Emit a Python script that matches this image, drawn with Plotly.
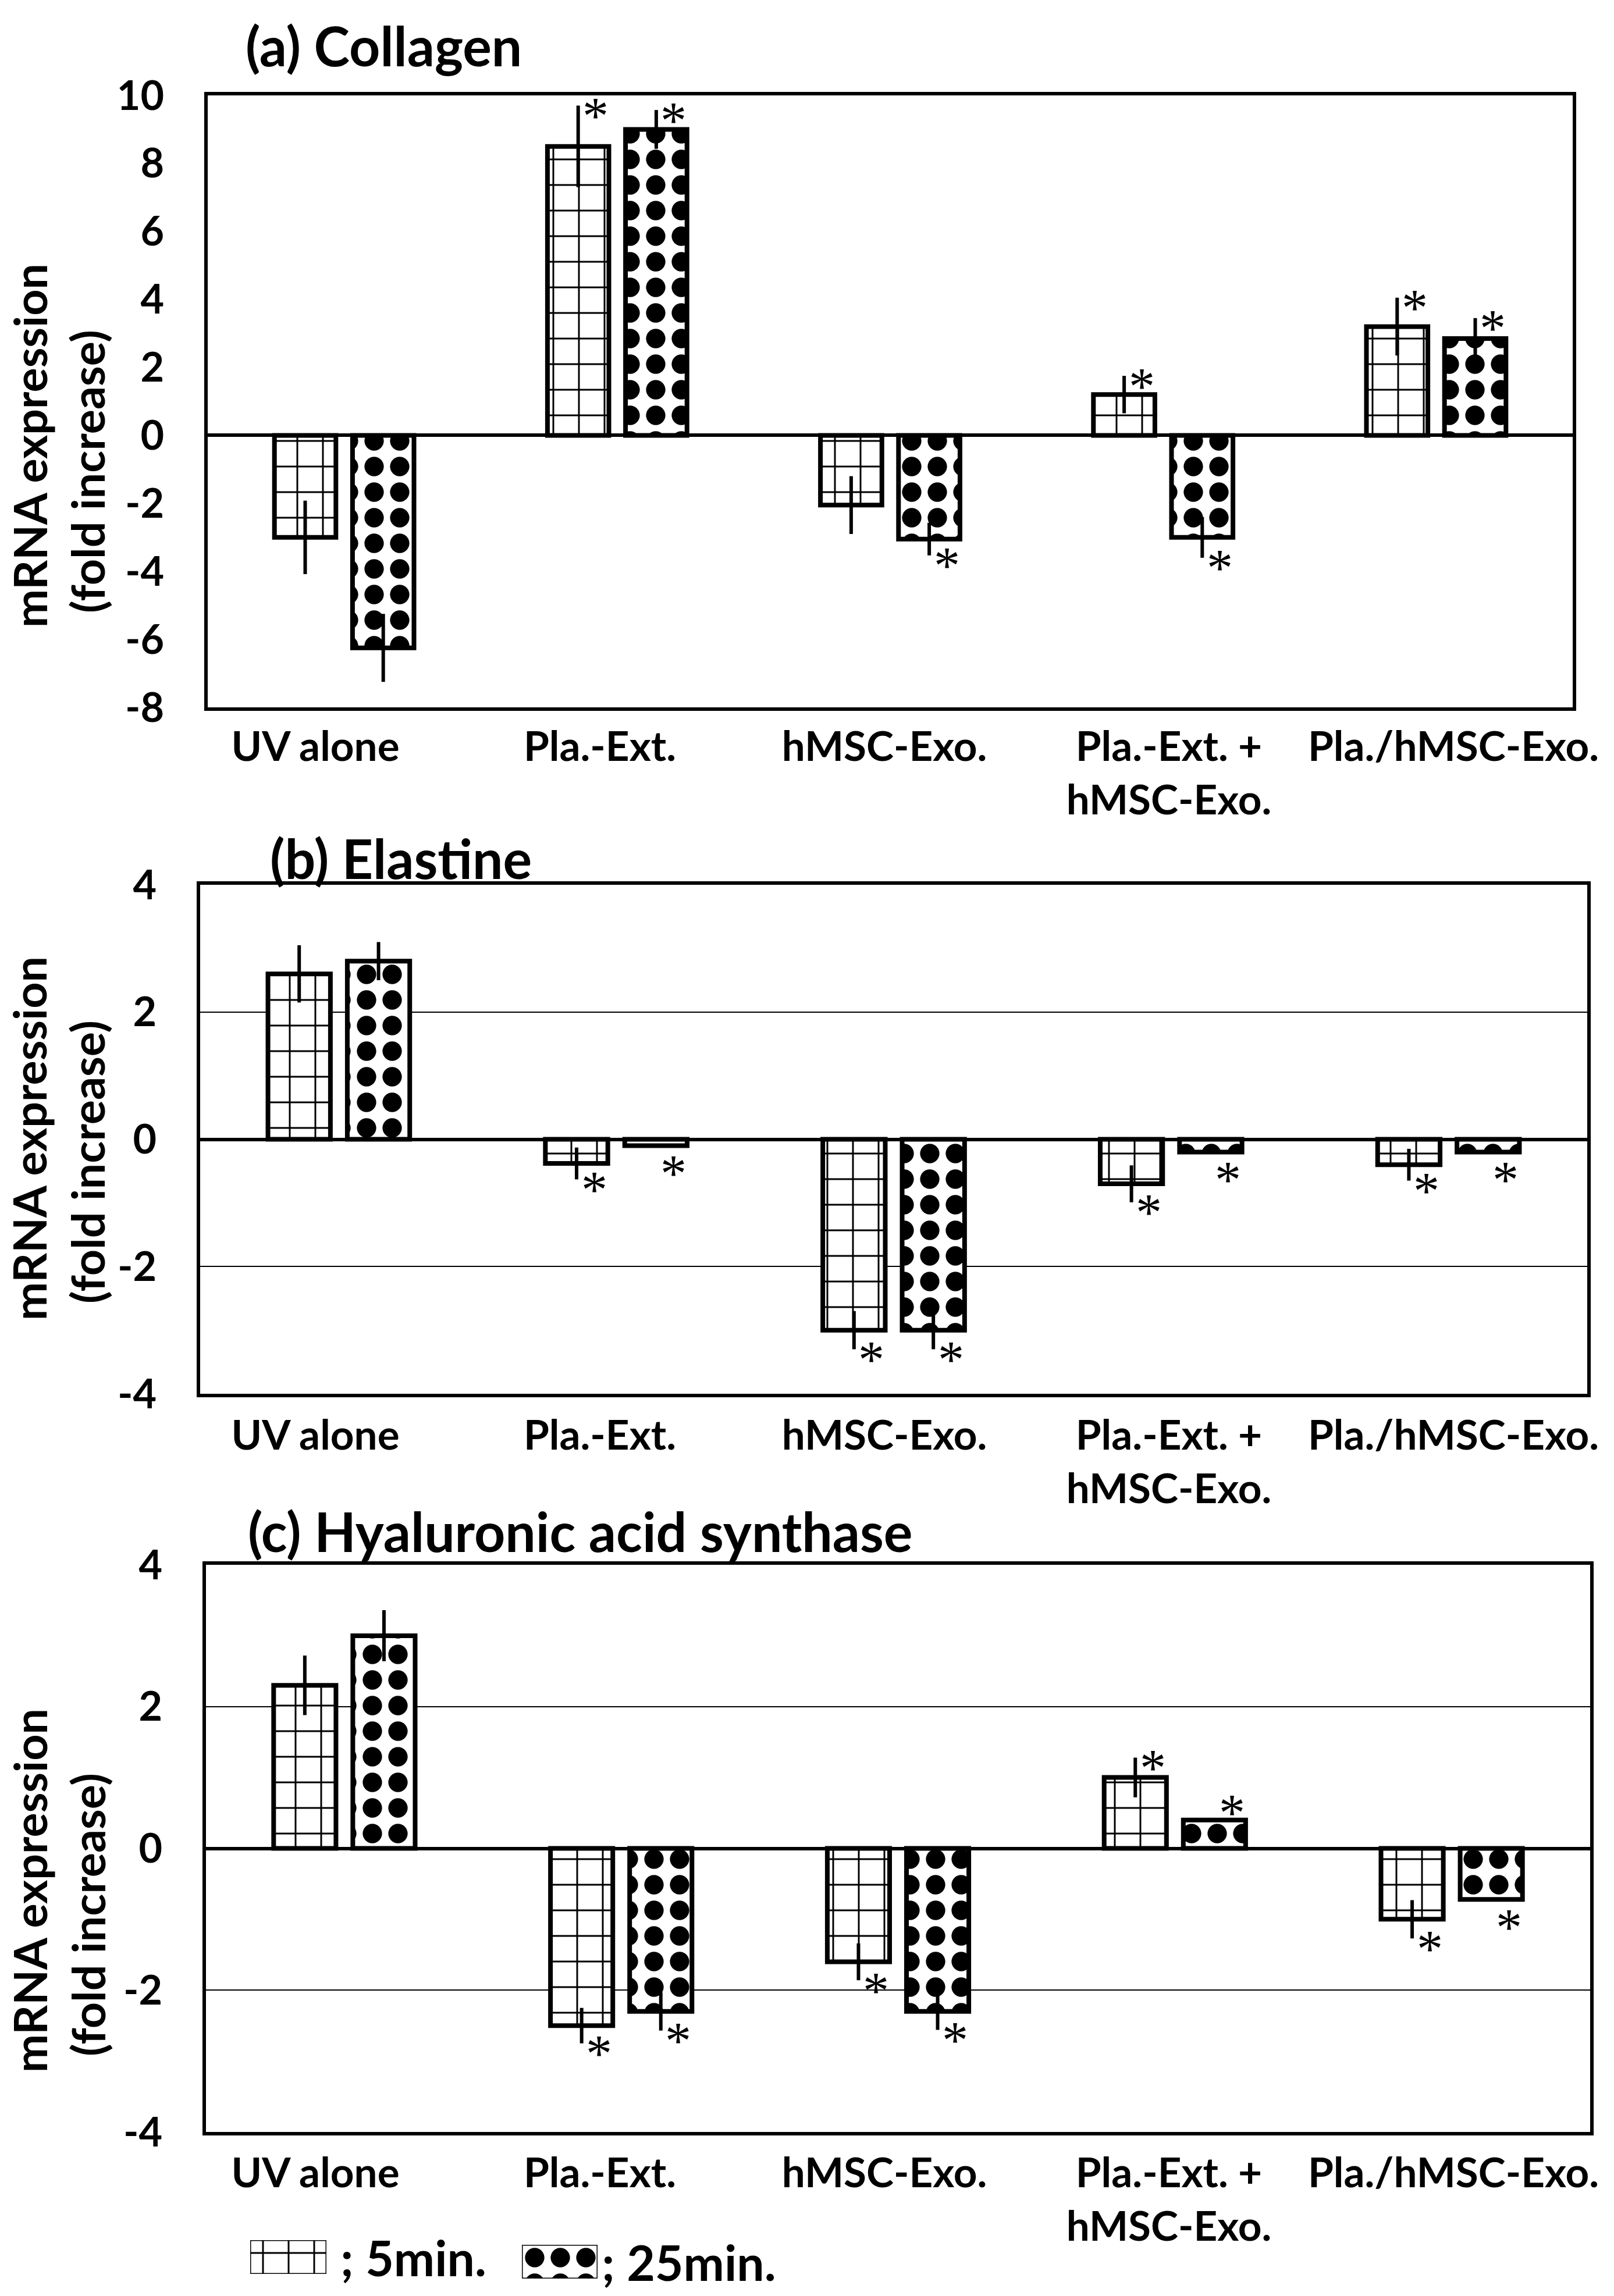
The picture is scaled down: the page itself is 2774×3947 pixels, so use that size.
import plotly.graph_objects as go

W, H = 2774, 3947

# ---------------- data ----------------
CATEGORIES = ["UV alone", "Pla.-Ext.", "hMSC-Exo.", "Pla.-Ext. +<br>hMSC-Exo.", "Pla./hMSC-Exo."]
SERIES = ["5min.", "25min."]

PANEL_TITLES = ["(a) Collagen", "(b) Elastine", "(c) Hyaluronic acid synthase"]

COLLAGEN_5 = [-3.0, 8.5, -2.05, 1.2, 3.2]
COLLAGEN_5_ERR = [1.08, 1.2, 0.85, 0.55, 0.85]
COLLAGEN_25 = [-6.25, 9.0, -3.05, -3.0, 2.85]
COLLAGEN_25_ERR = [1.0, 0.57, 0.48, 0.6, 0.6]
COLLAGEN_5_SIG = [False, True, False, True, True]
COLLAGEN_25_SIG = [False, True, True, True, True]

ELASTINE_5 = [2.6, -0.38, -3.0, -0.7, -0.4]
ELASTINE_5_ERR = [0.45, 0.25, 0.3, 0.29, 0.25]
ELASTINE_25 = [2.8, -0.1, -3.0, -0.2, -0.2]
ELASTINE_25_ERR = [0.3, 0.0, 0.3, 0.0, 0.0]
ELASTINE_5_SIG = [False, True, True, True, True]
ELASTINE_25_SIG = [False, True, True, True, True]

HAS_5 = [2.3, -2.5, -1.6, 1.0, -1.0]
HAS_5_ERR = [0.42, 0.25, 0.26, 0.28, 0.27]
HAS_25 = [3.0, -2.3, -2.3, 0.4, -0.72]
HAS_25_ERR = [0.36, 0.27, 0.26, 0.0, 0.0]
HAS_5_SIG = [False, True, True, True, True]
HAS_25_SIG = [False, True, True, True, True]

Y_RANGES = [(-8, 10), (-4, 4), (-4, 4)]
Y_TICK_STEP = 2

# ---------------- styles ----------------
FONT = "Lato"
PATTERNS = [
    dict(shape="+", size=44, solidity=0.13, fgcolor="black", bgcolor="white", fillmode="replace"),
    dict(shape=".", size=44, solidity=0.45, fgcolor="black", bgcolor="white", fillmode="replace"),
]

# panel boxes in pixels: (left, right, top, bottom)
BOXES = [(357, 2703, 164, 1216), (344, 2728, 1521, 2396), (354, 2733, 2690, 3665)]
TITLE_POS = [(420, 78), (462, 1475), (424, 2632)]
YTITLE_POS = [((50, 766), (150, 811)), ((50, 1957), (150, 1998)), ((50, 3250), (150, 3292))]
LABEL_FIRST_PX, LABEL_STEP_PX = 542, 489
LABEL_STANDOFF = [20, 24, 23]

panels = [
    (COLLAGEN_5, COLLAGEN_5_ERR, COLLAGEN_5_SIG, COLLAGEN_25, COLLAGEN_25_ERR, COLLAGEN_25_SIG),
    (ELASTINE_5, ELASTINE_5_ERR, ELASTINE_5_SIG, ELASTINE_25, ELASTINE_25_ERR, ELASTINE_25_SIG),
    (HAS_5, HAS_5_ERR, HAS_5_SIG, HAS_25, HAS_25_ERR, HAS_25_SIG),
]

fig = go.Figure()
layout = dict(
    width=W, height=H, margin=dict(l=0, r=0, t=0, b=0, pad=0, autoexpand=False),
    paper_bgcolor="white", plot_bgcolor="white",
    barmode="group", bargap=0.428, bargroupgap=0.213,
    showlegend=False,
    font=dict(family=FONT, color="black"),
)
annotations = []

BAR_GROUP_W = 1 - 0.428
SLOT = BAR_GROUP_W / 2

for p, (v5, e5, s5, v25, e25, s25) in enumerate(panels):
    xa = "x" if p == 0 else f"x{p+1}"
    ya = "y" if p == 0 else f"y{p+1}"
    xkey = "xaxis" if p == 0 else f"xaxis{p+1}"
    ykey = "yaxis" if p == 0 else f"yaxis{p+1}"
    left, right, top, bottom = BOXES[p]
    ylo, yhi = Y_RANGES[p]
    tickvals = list(range(ylo, yhi + 1, Y_TICK_STEP))

    for si, (vals, errs, sigs) in enumerate([(v5, e5, s5), (v25, e25, s25)]):
        fig.add_trace(go.Bar(
            x=list(range(len(CATEGORIES))), y=vals, name=SERIES[si],
            xaxis=xa, yaxis=ya,
            marker=dict(color="white", line=dict(color="black", width=8), pattern=PATTERNS[si]),
            error_y=dict(type="data", array=errs, visible=True, color="black", thickness=6, width=0),
        ))
        # asterisks
        for ci, (v, e, s) in enumerate(zip(vals, errs, sigs)):
            if not s:
                continue
            sign = 1 if v >= 0 else -1
            xpos = ci + (si - 0.5) * SLOT
            extra = 0 if e > 0 else 30 * sign
            annotations.append(dict(
                x=xpos, y=v + sign * e, xref=xa, yref=ya,
                text="*", showarrow=False,
                font=dict(family="Liberation Serif", size=90, color="black"),
                xanchor="center", yanchor="middle",
                xshift=30, yshift=-18 + extra,
            ))

    layout[xkey] = dict(
        domain=[left / W, right / W], anchor=ya,
        range=[-0.5, len(CATEGORIES) - 0.5],
        showticklabels=False, ticks="", showgrid=False, zeroline=False,
        showline=True, mirror=True, linecolor="black", linewidth=6,
        fixedrange=True, automargin=False,
    )
    layout[ykey] = dict(
        domain=[1 - bottom / H, 1 - top / H], anchor=xa,
        range=[ylo, yhi], tickvals=tickvals, ticktext=[str(t) for t in tickvals],
        ticks="", ticklabelstandoff=55,
        tickfont=dict(family=FONT, size=70, color="black", weight="bold"),
        showgrid=(p > 0), gridcolor="black", gridwidth=2,
        zeroline=True, zerolinecolor="black", zerolinewidth=6,
        showline=True, mirror=True, linecolor="black", linewidth=6,
        fixedrange=True, automargin=False,
    )

    # label axis (linear overlay carrying the category names)
    lab_idx = 4 + p
    lab_key = f"xaxis{lab_idx}"
    r0 = -(LABEL_FIRST_PX - left) / LABEL_STEP_PX
    r1 = (right - LABEL_FIRST_PX) / LABEL_STEP_PX
    layout[lab_key] = dict(
        overlaying=xa, anchor=ya, side="bottom", range=[r0, r1],
        tickvals=list(range(len(CATEGORIES))), ticktext=CATEGORIES,
        ticks="", showgrid=False, zeroline=False, showline=False,
        ticklabelstandoff=LABEL_STANDOFF[p],
        tickfont=dict(family=FONT, size=71, color="black", weight="bold"),
        fixedrange=True, automargin=False,
    )
    fig.add_trace(go.Scatter(x=list(range(len(CATEGORIES))), y=[None] * len(CATEGORIES),
                             xaxis=f"x{lab_idx}", yaxis=ya, mode="markers",
                             marker=dict(opacity=0), hoverinfo="skip"))

    # panel title
    tx, ty = TITLE_POS[p]
    annotations.append(dict(x=tx / W, y=1 - ty / H, xref="paper", yref="paper",
                            text=f"<b>{PANEL_TITLES[p]}</b>", showarrow=False,
                            xanchor="left", yanchor="middle",
                            font=dict(family=FONT, size=93, color="black")))
    # y axis title (two lines)
    for (lx, ly), txt in zip(YTITLE_POS[p], ["mRNA expression", "(fold increase)"]):
        annotations.append(dict(x=lx / W, y=1 - ly / H, xref="paper", yref="paper",
                                text=f"<b>{txt}</b>", showarrow=False, textangle=-90,
                                xanchor="center", yanchor="middle",
                                font=dict(family=FONT, size=79, color="black")))

# ---------------- legend (pattern swatches) ----------------
LEGEND_BOXES = [(430, 561, 3851, 3909), (897, 1027, 3859, 3917)]
LEGEND_TEXT_X = [583, 1032]
for i, (l, r, t, b) in enumerate(LEGEND_BOXES):
    k = 7 + i
    fig.add_trace(go.Scatter(
        x=[0, 1, 1, 0, 0], y=[0, 0, 1, 1, 0], xaxis=f"x{k}", yaxis=f"y{k}",
        mode="lines", fill="toself", fillcolor="white", fillpattern=PATTERNS[i],
        line=dict(color="black", width=3), cliponaxis=False, hoverinfo="skip",
    ))
    layout[f"xaxis{k}"] = dict(domain=[l / W, r / W], anchor=f"y{k}", range=[0, 1], visible=False,
                               fixedrange=True, automargin=False)
    layout[f"yaxis{k}"] = dict(domain=[1 - b / H, 1 - t / H], anchor=f"x{k}", range=[0, 1], visible=False,
                               fixedrange=True, automargin=False)
    annotations.append(dict(x=LEGEND_TEXT_X[i] / W, y=1 - ((t + b) / 2) / H, xref="paper", yref="paper",
                            text=f"<b>; {SERIES[i]}</b>", showarrow=False,
                            xanchor="left", yanchor="middle",
                            font=dict(family=FONT, size=84, color="black")))

layout["annotations"] = annotations
fig.update_layout(**layout)
fig.write_html("out.html", config={"displayModeBar": False, "staticPlot": True},
               post_script="document.body.style.margin='0px';")
